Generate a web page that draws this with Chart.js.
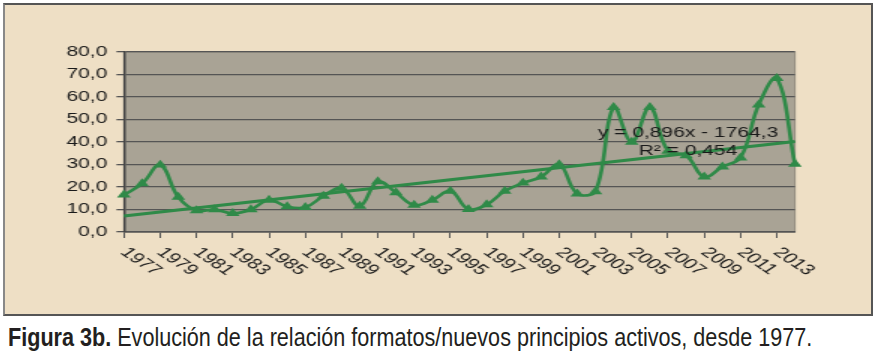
<!DOCTYPE html>
<html>
<head>
<meta charset="utf-8">
<script src="https://cdn.jsdelivr.net/npm/chart.js@4.4.1/dist/chart.umd.min.js"></script>
<style>
  body { margin: 0; background: #fff; width: 879px; height: 363px; overflow: hidden; }
  #box { position: absolute; left: 3px; top: 3px; width: 866px; height: 309px;
         border: 2px solid #555; border-left-color: #888; background: #EEDFC5; }
  #wrap { position: absolute; left: 0; top: 0; width: 577.33px; height: 309px;
          transform: scaleX(1.5); transform-origin: 0 0; }
  #cap { position: absolute; left: 8px; top: 322px; font-family: "Liberation Sans", Arial, sans-serif;
         font-size: 26px; color: #231f20; white-space: nowrap; transform-origin: 0 0; }
</style>
</head>
<body>
<div id="box"><div id="wrap"><canvas id="chart1"></canvas></div></div>
<div id="cap"><b>Figura 3b.</b> Evolución de la relación formatos/nuevos principios activos, desde 1977.</div>
<script>
// data
var years = ['1977','1978','1979','1980','1981','1982','1983','1984','1985','1986',
             '1987','1988','1989','1990','1991','1992','1993','1994','1995','1996',
             '1997','1998','1999','2000','2001','2002','2003','2004','2005','2006',
             '2007','2008','2009','2010','2011','2012','2013','2014'];
var ratio = [16.5, 21.5, 29.8, 15.5, 9.5, 10, 8.3, 10, 14.2, 11.3,
             11, 16, 19.5, 11.5, 22.4, 17.5, 12, 14.2, 18.2, 10.1,
             12.2, 18.2, 21.8, 24.5, 30, 17, 18, 55.4, 40, 55.4,
             36, 34, 24.5, 29, 33, 56.5, 68.3, 30.2];
var trendStart = 7.1, trendEnd = 40.2;   // linear trend at 1977 and 2014
var trendText = ['y = 0,896x - 1764,3', 'R\u00b2 = 0,454'];
var yTicks = [0, 10, 20, 30, 40, 50, 60, 70, 80];

var green = '#2F8A48';
var trend = years.map(function(y, i) {
  if (i === 0) return trendStart;
  if (i === years.length - 1) return trendEnd;
  return null;
});

// squeeze the caption to the width it has in the figure
var cap = document.getElementById('cap');
cap.style.transform = 'scaleX(' + (804 / cap.scrollWidth) + ')';

var plotBg = {
  id: 'plotBg',
  beforeDraw: function(chart) {
    var a = chart.chartArea, c = chart.ctx;
    c.save();
    c.fillStyle = '#A9A395';
    c.fillRect(a.left, a.top, a.right - a.left, a.bottom - a.top);
    c.strokeStyle = '#8E897D';
    c.lineWidth = 1;
    c.strokeRect(a.left, a.top, a.right - a.left, a.bottom - a.top);
    c.restore();
  }
};

// x labels slope down to the right, so they are drawn here off the x scale
var xLabels = {
  id: 'xLabels',
  afterDraw: function(chart) {
    var xs = chart.scales.x, c = chart.ctx, bottom = chart.chartArea.bottom;
    c.save();
    c.fillStyle = '#1a1a1a';
    c.font = '14.5px "Liberation Sans", Arial, sans-serif';
    c.textAlign = 'left';
    c.textBaseline = 'top';
    years.forEach(function(lab, i) {
      if (i % 2) return;
      c.save();
      c.translate(xs.getPixelForValue(i) + 5, bottom + 13);
      c.rotate(Math.PI / 4);
      c.fillText(lab, 0, 0);
      c.restore();
    });
    c.restore();
  }
};

var eqLabel = {
  id: 'eqLabel',
  afterDatasetsDraw: function(chart) {
    var xs = chart.scales.x, ys = chart.scales.y, c = chart.ctx;
    c.save();
    c.fillStyle = '#1a1a1a';
    c.font = '14px "Liberation Sans", Arial, sans-serif';
    c.textAlign = 'center';
    c.textBaseline = 'middle';
    c.fillText(trendText[0], xs.getPixelForValue(31.1), ys.getPixelForValue(44));
    c.fillText(trendText[1], xs.getPixelForValue(31.1), ys.getPixelForValue(36));
    c.restore();
  }
};

var ctx = document.getElementById('chart1').getContext('2d');
var myChart = new Chart(ctx, {
  type: 'line',
  data: {
    labels: years,
    datasets: [{
      data: ratio,
      borderColor: green,
      backgroundColor: green,
      borderWidth: 2.6,
      tension: 0.4,
      pointStyle: 'triangle',
      pointRadius: 5.3,
      pointBorderWidth: 0,
      clip: false
    }, {
      data: trend,
      borderColor: green,
      borderWidth: 3,
      pointRadius: 0,
      spanGaps: true,
      tension: 0
    }]
  },
  options: {
    responsive: true,
    maintainAspectRatio: false,
    animation: false,
    events: [],
    layout: { padding: { left: 0, right: 50.67, top: 47, bottom: 0 } },
    plugins: { legend: { display: false }, tooltip: { enabled: false } },
    scales: {
      x: {
        afterFit: function(s) { s.height = 82; },
        grid: {
          drawOnChartArea: false,
          tickLength: 6,
          tickColor: function(c) { return c.index % 2 === 0 ? '#555' : 'rgba(0,0,0,0)'; }
        },
        border: { color: '#555', width: 1.5 },
        ticks: { display: false, autoSkip: false }
      },
      y: {
        min: 0,
        max: 80,
        afterFit: function(s) { s.width = 79.3; },
        afterBuildTicks: function(s) { s.ticks = yTicks.map(function(v) { return { value: v }; }); },
        grid: { color: '#555', lineWidth: 1.3, tickLength: 5 },
        border: { color: '#444', width: 1.5 },
        ticks: {
          padding: 6,
          color: '#1a1a1a',
          font: { family: '"Liberation Sans", Arial, sans-serif', size: 14 },
          callback: function(v) { return v.toFixed(1).replace('.', ','); }
        }
      }
    }
  },
  plugins: [plotBg, xLabels, eqLabel]
});
</script>
</body>
</html>
